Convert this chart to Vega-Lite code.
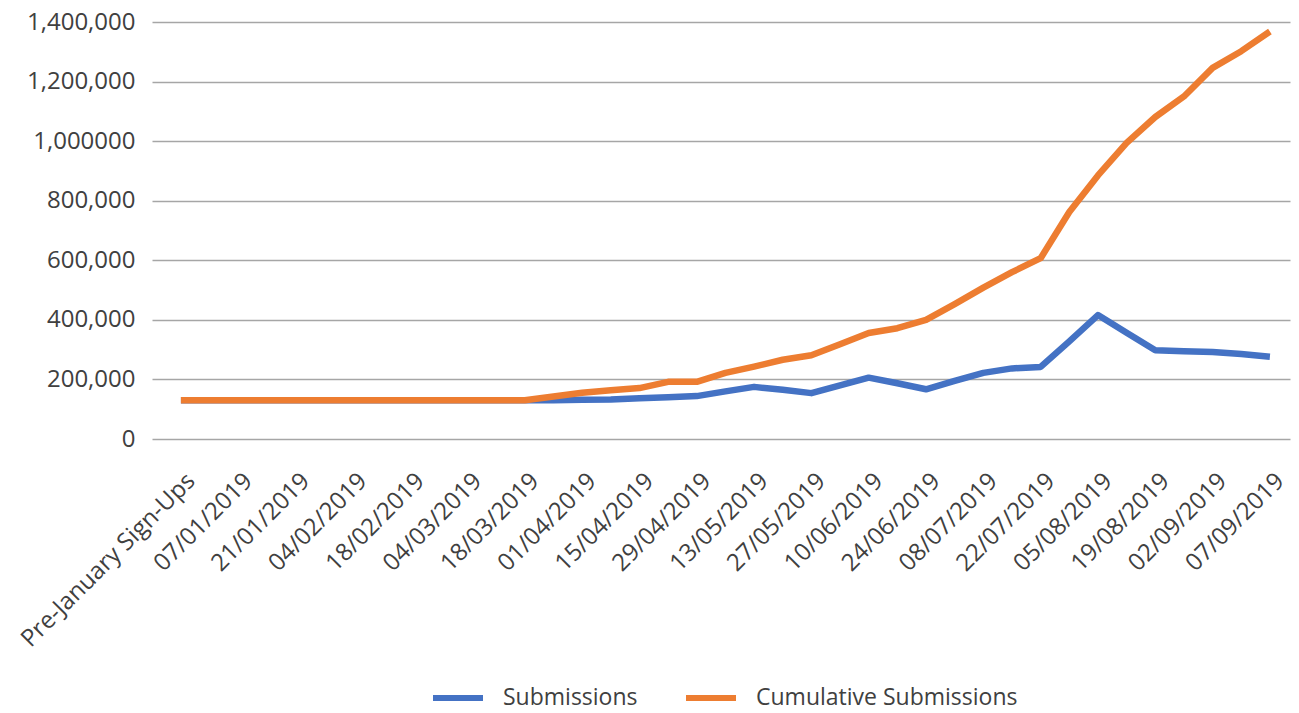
{
  "$schema": "https://vega.github.io/schema/vega-lite/v6.json",
  "autosize": {"type": "none"},
  "padding": {"left": 152, "top": 22, "right": 9, "bottom": 274},
  "width": 1138,
  "height": 417,
  "background": "white",
  "config": {"view": {"stroke": null}, "font": "Open Sans"},
  "datasets": {
    "weeks": [
      {"idx": 0, "week": "Pre-January Sign-Ups", "Submissions": 130000, "Cumulative Submissions": 130000},
      {"idx": 1, "week": "31/12/2018", "Submissions": 130000, "Cumulative Submissions": 130000},
      {"idx": 2, "week": "07/01/2019", "Submissions": 130000, "Cumulative Submissions": 130000},
      {"idx": 3, "week": "14/01/2019", "Submissions": 130000, "Cumulative Submissions": 130000},
      {"idx": 4, "week": "21/01/2019", "Submissions": 130000, "Cumulative Submissions": 130000},
      {"idx": 5, "week": "28/01/2019", "Submissions": 130000, "Cumulative Submissions": 130000},
      {"idx": 6, "week": "04/02/2019", "Submissions": 130000, "Cumulative Submissions": 130000},
      {"idx": 7, "week": "11/02/2019", "Submissions": 130000, "Cumulative Submissions": 130000},
      {"idx": 8, "week": "18/02/2019", "Submissions": 130000, "Cumulative Submissions": 130000},
      {"idx": 9, "week": "25/02/2019", "Submissions": 130000, "Cumulative Submissions": 130000},
      {"idx": 10, "week": "04/03/2019", "Submissions": 130000, "Cumulative Submissions": 130000},
      {"idx": 11, "week": "11/03/2019", "Submissions": 130000, "Cumulative Submissions": 130000},
      {"idx": 12, "week": "18/03/2019", "Submissions": 130000, "Cumulative Submissions": 130000},
      {"idx": 13, "week": "25/03/2019", "Submissions": 130000, "Cumulative Submissions": 143000},
      {"idx": 14, "week": "01/04/2019", "Submissions": 132000, "Cumulative Submissions": 155000},
      {"idx": 15, "week": "08/04/2019", "Submissions": 133000, "Cumulative Submissions": 164000},
      {"idx": 16, "week": "15/04/2019", "Submissions": 137000, "Cumulative Submissions": 171000},
      {"idx": 17, "week": "22/04/2019", "Submissions": 140000, "Cumulative Submissions": 192000},
      {"idx": 18, "week": "29/04/2019", "Submissions": 144000, "Cumulative Submissions": 192000},
      {"idx": 19, "week": "06/05/2019", "Submissions": 160000, "Cumulative Submissions": 222000},
      {"idx": 20, "week": "13/05/2019", "Submissions": 175000, "Cumulative Submissions": 243000},
      {"idx": 21, "week": "20/05/2019", "Submissions": 165000, "Cumulative Submissions": 266000},
      {"idx": 22, "week": "27/05/2019", "Submissions": 154000, "Cumulative Submissions": 281000},
      {"idx": 23, "week": "03/06/2019", "Submissions": 180000, "Cumulative Submissions": 318000},
      {"idx": 24, "week": "10/06/2019", "Submissions": 206000, "Cumulative Submissions": 356000},
      {"idx": 25, "week": "17/06/2019", "Submissions": 187000, "Cumulative Submissions": 372000},
      {"idx": 26, "week": "24/06/2019", "Submissions": 167000, "Cumulative Submissions": 400000},
      {"idx": 27, "week": "01/07/2019", "Submissions": 195000, "Cumulative Submissions": 453000},
      {"idx": 28, "week": "08/07/2019", "Submissions": 222000, "Cumulative Submissions": 508000},
      {"idx": 29, "week": "15/07/2019", "Submissions": 237000, "Cumulative Submissions": 560000},
      {"idx": 30, "week": "22/07/2019", "Submissions": 242000, "Cumulative Submissions": 607000},
      {"idx": 31, "week": "29/07/2019", "Submissions": 328000, "Cumulative Submissions": 762000},
      {"idx": 32, "week": "05/08/2019", "Submissions": 416000, "Cumulative Submissions": 885000},
      {"idx": 33, "week": "12/08/2019", "Submissions": 357000, "Cumulative Submissions": 994000},
      {"idx": 34, "week": "19/08/2019", "Submissions": 298000, "Cumulative Submissions": 1081000},
      {"idx": 35, "week": "26/08/2019", "Submissions": 295000, "Cumulative Submissions": 1150000},
      {"idx": 36, "week": "02/09/2019", "Submissions": 292000, "Cumulative Submissions": 1246000},
      {"idx": 37, "week": "04/09/2019", "Submissions": 285000, "Cumulative Submissions": 1302000},
      {"idx": 38, "week": "07/09/2019", "Submissions": 276000, "Cumulative Submissions": 1368000}
    ]
  },
  "data": {"name": "weeks"},
  "transform": [
    {"fold": ["Submissions", "Cumulative Submissions"], "as": ["series", "value"]}
  ],
  "mark": {"type": "line", "strokeWidth": 6.5, "strokeCap": "butt", "strokeJoin": "round"},
  "encoding": {
    "x": {
      "field": "week",
      "type": "ordinal",
      "sort": {"field": "idx"},
      "scale": {"type": "point", "padding": 0.855, "align": 0.59},
      "axis": {
        "title": null,
        "values": ["Pre-January Sign-Ups", "07/01/2019", "21/01/2019", "04/02/2019", "18/02/2019", "04/03/2019", "18/03/2019", "01/04/2019", "15/04/2019", "29/04/2019", "13/05/2019", "27/05/2019", "10/06/2019", "24/06/2019", "08/07/2019", "22/07/2019", "05/08/2019", "19/08/2019", "02/09/2019", "07/09/2019"],
        "labelAngle": -45,
        "labelAlign": "right",
        "labelBaseline": "middle",
        "labelFontSize": 24,
        "labelFont": "Open Sans",
        "labelColor": "#404040",
        "labelPadding": 38,
        "labelOffset": 10,
        "labelLimit": 0,
        "labelOverlap": false,
        "labelBound": false,
        "labelFlush": false,
        "ticks": false,
        "domain": false,
        "grid": false
      }
    },
    "y": {
      "field": "value",
      "type": "quantitative",
      "scale": {"domain": [0, 1400000], "nice": false, "zero": true},
      "axis": {
        "title": null,
        "values": [0, 200000, 400000, 600000, 800000, 1000000, 1200000, 1400000],
        "labelExpr": "datum.value == 1000000 ? '1,000000' : format(datum.value, ',')",
        "labelFontSize": 24,
        "labelFont": "Open Sans",
        "labelColor": "#404040",
        "labelPadding": 17,
        "grid": true,
        "gridColor": "#a6a6a6",
        "gridWidth": 1.3,
        "ticks": false,
        "domain": false
      }
    },
    "color": {
      "field": "series",
      "type": "nominal",
      "sort": ["Submissions", "Cumulative Submissions"],
      "scale": {"domain": ["Submissions", "Cumulative Submissions"], "range": ["#4472C4", "#ED7D31"]},
      "legend": {
        "orient": "none",
        "legendX": 278,
        "legendY": 648,
        "direction": "horizontal",
        "title": null,
        "symbolType": "stroke",
        "symbolSize": 2500,
        "symbolStrokeWidth": 6,
        "labelFontSize": 23,
        "labelFont": "Open Sans",
        "labelColor": "#404040",
        "labelOffset": 17,
        "labelLimit": 0,
        "columnPadding": 36
      }
    },
    "order": {"field": "idx", "type": "quantitative"}
  }
}
